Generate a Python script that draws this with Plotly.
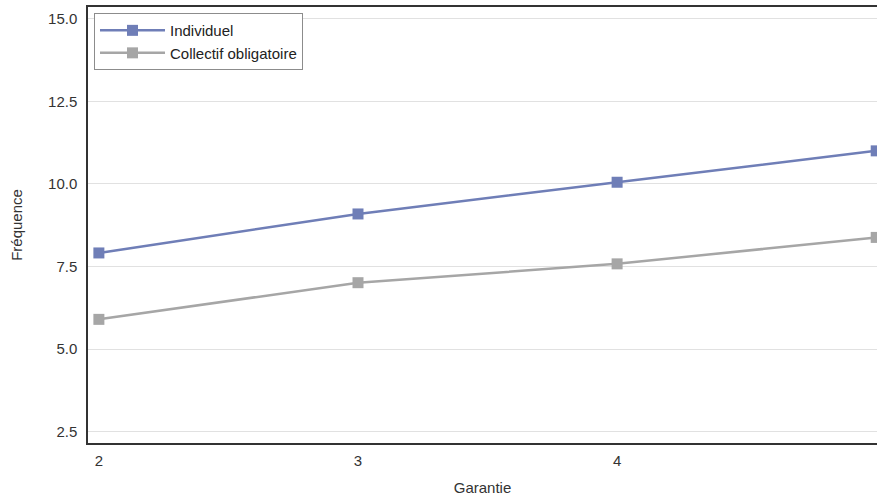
import plotly.graph_objects as go

garantie = [2, 3, 4, 5]
individuel = [7.91, 9.09, 10.05, 11.0]
collectif = [5.90, 7.01, 7.58, 8.38]
y_ticks = [2.5, 5.0, 7.5, 10.0, 12.5, 15.0]
y_tick_labels = ["2.5", "5.0", "7.5", "10.0", "12.5", "15.0"]
x_ticks = [2, 3, 4, 5]

blue = "#6f7eb7"
gray = "#a6a6a6"

fig = go.Figure()
fig.add_trace(go.Scatter(
    x=garantie, y=individuel, name="Individuel", mode="lines+markers",
    line=dict(color=blue, width=2.5),
    marker=dict(symbol="square", size=11, color=blue),
))
fig.add_trace(go.Scatter(
    x=garantie, y=collectif, name="Collectif obligatoire", mode="lines+markers",
    line=dict(color=gray, width=2.5),
    marker=dict(symbol="square", size=11, color=gray),
))

fig.update_layout(
    width=877, height=500,
    margin=dict(l=88, r=0, t=7, b=57, autoexpand=False),
    plot_bgcolor="white", paper_bgcolor="white",
    font=dict(family="Liberation Sans, Arial, sans-serif", size=15, color="#333333"),
    showlegend=True,
    legend=dict(
        x=0.0076, y=0.986, xanchor="left", yanchor="top",
        bordercolor="#8c8c8c", borderwidth=1, bgcolor="white",
        font=dict(size=15, color="#222222"),
        tracegroupgap=0, itemwidth=65,
    ),
)
fig.update_xaxes(
    range=[1.958, 5.003], tickvals=x_ticks, ticktext=[str(v) for v in x_ticks],
    showgrid=False, zeroline=False,
    showline=True, linecolor="#333333", linewidth=1.5, mirror=True,
    ticks="", ticklabelstandoff=3,
    title=dict(text="Garantie", font=dict(size=15, color="#333333"), standoff=15),
)
fig.update_yaxes(
    range=[2.158, 15.354], tickvals=y_ticks, ticktext=y_tick_labels,
    showgrid=True, gridcolor="#e1e1e1", gridwidth=1, zeroline=False,
    showline=True, linecolor="#333333", linewidth=1.5, mirror=False,
    ticks="", ticklabelstandoff=6,
    title=dict(text="Fréquence", font=dict(size=15, color="#333333"), standoff=22),
)

fig.write_html(
    "out.html",
    config={"displayModeBar": False},
    post_script="document.body.style.margin='0';document.body.style.overflow='hidden';",
)
